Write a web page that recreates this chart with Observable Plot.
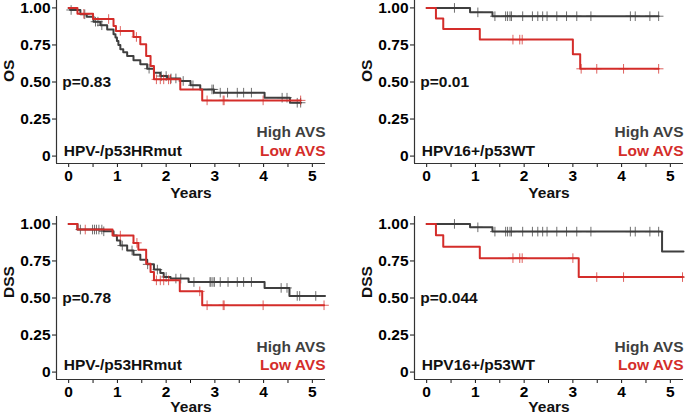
<!DOCTYPE html>
<html><head><meta charset="utf-8">
<script src="https://cdn.jsdelivr.net/npm/d3@7"></script>
<script src="https://cdn.jsdelivr.net/npm/@observablehq/plot@0.6"></script>
<style>
body{margin:0;background:#fff;}
#root{position:relative;width:685px;height:414px;overflow:hidden;background:#fff;}
.panel{position:absolute;}
.panel svg{overflow:visible;}
</style></head><body><div id="root"></div>
<script>
// ---- tick values ----
const xTicks = [0, 0.5, 1, 1.5, 2, 2.5, 3, 3.5, 4, 4.5, 5];
const yTicks = [0, 0.25, 0.5, 0.75, 1];
const groupLabels = ["High AVS", "Low AVS"];
const panelTitles = ["HPV-/p53HRmut", "HPV16+/p53WT", "HPV-/p53HRmut", "HPV16+/p53WT"];
const yLabels = ["OS", "OS", "DSS", "DSS"];
const pValues = ["p=0.83", "p=0.01", "p=0.78", "p=0.044"];

// ---- Panel 1: OS, HPV-/p53HRmut ----  [years, survival]
const os_neg_high = [[0,1],[0.03,0.986],[0.24,0.957],[0.37,0.94],[0.51,0.907],[0.65,0.883],[0.79,0.855],[0.92,0.822],[0.96,0.80],[0.99,0.777],[1.02,0.75],[1.06,0.721],[1.12,0.70],[1.2,0.676],[1.33,0.646],[1.47,0.62],[1.61,0.59],[1.75,0.563],[1.88,0.54],[2.02,0.524],[2.29,0.507],[2.5,0.478],[2.7,0.45],[2.98,0.428],[4.02,0.394],[4.54,0.36],[4.76,0.36]];
const os_neg_high_cens = [0.05,0.33,0.55,0.6,0.68,1.65,1.9,2.0,2.1,2.2,2.35,2.55,2.94,2.97,3.11,3.26,3.46,3.59,3.75,4.38,4.48,4.69,4.76];
const os_neg_low = [[0,1],[0.18,0.96],[0.5,0.925],[0.92,0.878],[0.97,0.845],[1.33,0.804],[1.47,0.755],[1.59,0.676],[1.68,0.608],[1.75,0.518],[2.29,0.45],[2.74,0.376],[4.76,0.376]];
const os_neg_low_cens = [0.31,0.82,1.06,1.39,1.8,1.88,1.95,2.05,2.09,2.84,3.17,3.19,3.99,4.76];

// ---- Panel 2: OS, HPV16+/p53WT ----
const os_pos_high = [[0,1],[0.89,0.97],[1.35,0.944],[4.76,0.944]];
const os_pos_high_cens = [0.57,1.05,1.4,1.62,1.66,1.71,1.74,1.97,2.17,2.28,2.38,2.47,2.67,2.87,3.08,3.37,4.18,4.28,4.58,4.76];
const os_pos_low = [[0,1],[0.19,0.929],[0.34,0.857],[1.09,0.786],[3.0,0.688],[3.15,0.589],[4.76,0.589]];
const os_pos_low_cens = [1.77,1.91,1.96,3.17,3.49,4.04,4.76];

// ---- Panel 3: DSS, HPV-/p53HRmut ----
const dss_neg_high = [[0,1],[0.18,0.962],[0.72,0.95],[0.92,0.921],[0.99,0.888],[1.06,0.854],[1.2,0.821],[1.33,0.792],[1.47,0.758],[1.61,0.727],[1.75,0.692],[1.88,0.669],[1.95,0.642],[2.09,0.631],[2.46,0.608],[4.02,0.568],[4.53,0.514],[5.26,0.514]];
const dss_neg_high_cens = [0.24,0.49,0.53,0.57,0.62,0.68,0.72,1.1,1.3,1.62,1.82,2.0,2.2,2.3,2.57,2.9,2.92,2.96,2.99,3.11,3.27,3.46,3.59,3.75,4.36,4.48,4.69,4.74,5.07];
const dss_neg_low = [[0,1],[0.18,0.962],[0.9,0.921],[1.33,0.872],[1.43,0.825],[1.59,0.731],[1.68,0.675],[1.75,0.619],[2.28,0.545],[2.74,0.451],[5.24,0.451]];
const dss_neg_low_cens = [0.34,1.06,1.4,1.8,1.88,1.95,2.05,2.69,2.84,3.17,3.19,3.99,5.24];

// ---- Panel 4: DSS, HPV16+/p53WT ----
const dss_pos_high = [[0,1],[0.89,0.977],[1.35,0.948],[4.83,0.814],[5.27,0.814]];
const dss_pos_high_cens = [0.57,1.05,1.4,1.62,1.66,1.71,1.74,1.97,2.17,2.28,2.38,2.47,2.67,2.87,3.08,3.37,4.18,4.28,4.58,4.76];
const dss_pos_low = [[0,1],[0.19,0.923],[0.34,0.846],[1.09,0.769],[3.12,0.641],[5.26,0.641]];
const dss_pos_low_cens = [1.77,1.91,1.96,3.0,3.49,4.04,5.25];

const HIGH = "#3f3f3f", LOW = "#d42d2a";
const FS = 15.5;

function survAt(steps, t) {
  let s = steps[0][1];
  for (const [tt, ss] of steps) if (tt <= t + 1e-9) s = ss;
  return s;
}

const panels = [
  {high: os_neg_high, highC: os_neg_high_cens, low: os_neg_low, lowC: os_neg_low_cens, left: 0, top: -10, row: 0, col: 0},
  {high: os_pos_high, highC: os_pos_high_cens, low: os_pos_low, lowC: os_pos_low_cens, left: 340, top: -10, row: 0, col: 1},
  {high: dss_neg_high, highC: dss_neg_high_cens, low: dss_neg_low, lowC: dss_neg_low_cens, left: 0, top: 200, row: 1, col: 0},
  {high: dss_pos_high, highC: dss_pos_high_cens, low: dss_pos_low, lowC: dss_pos_low_cens, left: 340, top: 200, row: 1, col: 1}
];

const root = document.getElementById("root");
panels.forEach((p, i) => {
  const xDom = [-0.25, 5.27];
  const yDom = [-0.05, 1.05];
  const cens = (steps, times) => times.map(t => [t, survAt(steps, t)]);
  const hiY = p.row === 0 ? 0.165 : 0.17;
  const loY = p.row === 0 ? 0.035 : 0.05;
  const chart = Plot.plot({
    width: p.col === 0 ? 330 : 345,
    height: 215,
    marginLeft: p.col === 0 ? 56 : 74,
    marginRight: p.col === 0 ? 5 : 2,
    marginTop: p.row === 0 ? 10 : 16,
    marginBottom: p.row === 0 ? 42 : 36,
    x: {domain: xDom},
    y: {domain: yDom},
    style: {fontFamily: "'Liberation Sans', Arial, sans-serif", fontWeight: "bold", fontSize: FS + "px", color: "#111", background: "transparent", overflow: "visible"},
    marks: [
      Plot.axisY({ticks: yTicks, tickFormat: d => d === 0 ? "0" : d.toFixed(2), tickSize: 4, tickPadding: 2, label: null, fontSize: FS, fill: "#000"}),
      Plot.axisX({ticks: xTicks, tickFormat: d => Number.isInteger(d) ? String(d) : "", tickSize: 4, tickPadding: 2, label: null, fontSize: FS, fill: "#000"}),
      Plot.ruleX([xDom[0]], {stroke: "#333", strokeWidth: 1.2}),
      Plot.ruleY([yDom[0]], {stroke: "#333", strokeWidth: 1.2}),
      Plot.line(p.high, {x: d => d[0], y: d => d[1], curve: "step-after", stroke: HIGH, strokeWidth: 2}),
      Plot.dot(cens(p.high, p.highC), {x: d => d[0], y: d => d[1], symbol: "plus", r: 3.2, stroke: HIGH, strokeWidth: 1, strokeOpacity: 0.75}),
      Plot.line(p.low, {x: d => d[0], y: d => d[1], curve: "step-after", stroke: LOW, strokeWidth: 2}),
      Plot.dot(cens(p.low, p.lowC), {x: d => d[0], y: d => d[1], symbol: "plus", r: 3.2, stroke: LOW, strokeWidth: 1, strokeOpacity: 0.75}),
      Plot.text([pValues[i]], {x: -0.13, y: 0.5, text: d => d, textAnchor: "start", fontSize: FS, fill: "#111"}),
      Plot.text([panelTitles[i]], {x: -0.1, y: loY, text: d => d, textAnchor: "start", fontSize: FS, fill: "#111"}),
      Plot.text([groupLabels[0]], {x: xDom[1], y: hiY, text: d => d, textAnchor: "end", fontSize: FS, fill: HIGH}),
      Plot.text([groupLabels[1]], {x: xDom[1], y: loY, text: d => d, textAnchor: "end", fontSize: FS, fill: LOW}),
      Plot.text(["Years"], {frameAnchor: "bottom", dy: p.row === 0 ? 34 : 32, text: d => d, fontSize: FS, fill: "#111"}),
      Plot.text([yLabels[i]], {frameAnchor: "left", dx: -47, rotate: -90, text: d => d, fontSize: FS, fill: "#111"})
    ]
  });
  const div = document.createElement("div");
  div.className = "panel";
  div.style.left = p.left + "px";
  div.style.top = p.top + "px";
  div.appendChild(chart);
  root.appendChild(div);
});
</script>
</body></html>
